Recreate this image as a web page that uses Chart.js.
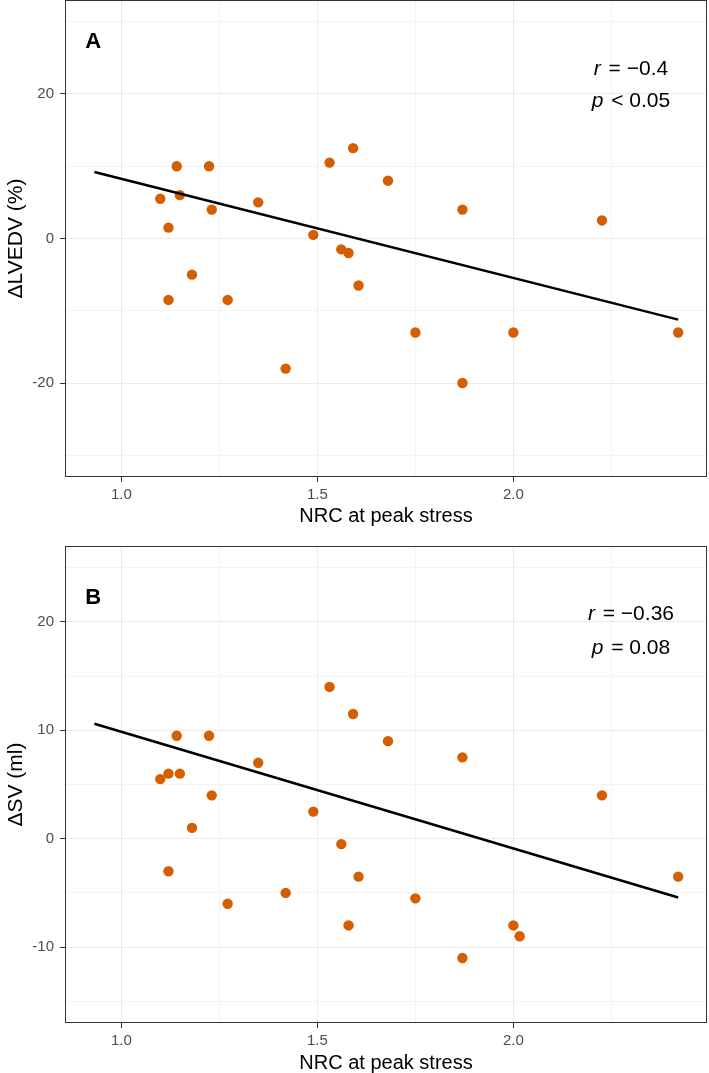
<!DOCTYPE html>
<html><head><meta charset="utf-8">
<script src="https://cdn.jsdelivr.net/npm/chart.js@4.4.0/dist/chart.umd.min.js"></script>
<style>
html,body{margin:0;padding:0;background:#fff;}
#wrapA{position:absolute;left:0;top:0;width:709px;height:540px;}
#wrapB{position:absolute;left:0;top:540px;width:709px;height:533px;}
canvas{display:block;}
</style></head><body>
<div id="wrapA"><canvas id="cA" width="709" height="540"></canvas></div>
<div id="wrapB"><canvas id="cB" width="709" height="533"></canvas></div>
<script>
// ---- data ----
const nrcA   = [1.099, 1.120, 1.120, 1.141, 1.149, 1.180, 1.2235, 1.2304, 1.271, 1.349, 1.419, 1.4896, 1.531, 1.561, 1.5795, 1.591, 1.605, 1.680, 1.750, 1.870, 1.870, 2.000, 2.226, 2.4205];
const dLVEDV = [5.5, 1.5, -8.5, 10, 6, -5, 10, 4, -8.5, 5, -18, 0.5, 10.5, -1.5, -2, 12.5, -6.5, 8, -13, 4, -20, -13, 2.5, -13];
const nrcB   = [1.099, 1.120, 1.120, 1.141, 1.149, 1.180, 1.2235, 1.2304, 1.271, 1.349, 1.419, 1.4896, 1.531, 1.561, 1.5795, 1.591, 1.605, 1.680, 1.750, 1.870, 1.870, 2.000, 2.016, 2.226, 2.4205];
const dSV    = [5.5, 6, -3, 9.5, 6, 1, 9.5, 4, -6, 7, -5, 2.5, 14, -0.5, -8, 11.5, -3.5, 9, -5.5, 7.5, -11, -8, -9, 4, -3.5];
const fitX   = [0.931, 2.4205];
const fitA   = [9.19, -11.22];
const fitB   = [10.6, -5.43];
const xTickValues  = [1.0, 1.25, 1.5, 1.75, 2.0, 2.25];
const xTickLabels  = ['1.0', '', '1.5', '', '2.0', ''];
const yTickValuesA = [-30, -20, -10, 0, 10, 20, 30];
const yTickLabelsA = ['', '-20', '', '0', '', '20', ''];
const yTickValuesB = [-15, -10, -5, 0, 5, 10, 15, 20, 25];
const yTickLabelsB = ['', '-10', '', '0', '', '10', '', '20', ''];
const statA = [['r', ' = \u22120.4'], ['p', ' < 0.05']];
const statB = [['r', ' = \u22120.36'], ['p', ' = 0.08']];

const FAM = '"Liberation Sans", Arial, Helvetica, sans-serif';

const panelDecor = {
  id: 'panelDecor',
  afterDatasetsDraw(chart, args, opts) {
    const {ctx, chartArea: a, scales: {x, y}} = chart;
    ctx.save();
    ctx.strokeStyle = '#333333';
    ctx.lineWidth = 1;
    ctx.strokeRect(Math.round(a.left) + 0.5, Math.round(a.top) + 0.5,
                   Math.round(a.right - a.left) - 1, Math.round(a.bottom - a.top) - 1);
    ctx.fillStyle = '#000';
    ctx.font = 'bold 22px ' + FAM;
    ctx.textAlign = 'center';
    ctx.textBaseline = 'alphabetic';
    ctx.fillText(opts.letter, x.getPixelForValue(opts.letterX), y.getPixelForValue(opts.letterY) + 22 * 0.716 / 2);
    const size = 21;
    const fi = 'italic ' + size + 'px ' + FAM, fn = size + 'px ' + FAM;
    opts.lines.forEach((ln, i) => {
      const cx = x.getPixelForValue(opts.statX);
      const cy = y.getPixelForValue(opts.statY[i]) + size * 0.716 / 2;
      ctx.font = fi; const w1 = ctx.measureText(ln[0]).width;
      ctx.font = fn; const w2 = ctx.measureText(ln[1]).width;
      const sx = cx - (w1 + w2 + 2) / 2;
      ctx.textAlign = 'left';
      ctx.font = fi; ctx.fillText(ln[0], sx, cy);
      ctx.font = fn; ctx.fillText(ln[1], sx + w1 + 2, cy);
    });
    ctx.restore();
  }
};

function makePanel(id, c) {
  return new Chart(document.getElementById(id), {
    type: 'scatter',
    data: {
      datasets: [
        { type: 'line', data: c.fitX.map((v, i) => ({x: v, y: c.fitY[i]})),
          borderColor: '#000', borderWidth: 2.5, pointRadius: 0, fill: false, order: 0 },
        { data: c.xs.map((v, i) => ({x: v, y: c.ys[i]})),
          backgroundColor: '#D55E00', borderWidth: 0, pointRadius: 5.2, order: 1 }
      ]
    },
    options: {
      responsive: false,
      animation: false,
      events: [],
      layout: { autoPadding: false, padding: { top: c.padTop, right: 2, bottom: 0, left: 0 } },
      plugins: {
        legend: { display: false },
        tooltip: { enabled: false },
        panelDecor: c.decor
      },
      scales: {
        x: {
          type: 'linear', min: 0.856, max: 2.494,
          afterBuildTicks: s => { s.ticks = xTickValues.map(v => ({value: v})); },
          afterFit: s => { s.height = c.xAxisH; s.paddingLeft = 0; s.paddingRight = 0; },
          border: { display: false },
          grid: {
            color: g => xTickLabels[g.index] ? '#ebebeb' : '#f3f3f3',
            lineWidth: 1, tickLength: 5, drawTicks: true,
            tickColor: g => xTickLabels[g.index] ? '#333333' : 'rgba(0,0,0,0)'
          },
          ticks: { autoSkip: false, maxRotation: 0, color: '#4d4d4d', padding: 3.5,
                   font: { family: FAM, size: 15 },
                   callback: (v, i) => xTickLabels[i] },
          title: { display: true, text: 'NRC at peak stress', color: '#000',
                   font: { family: FAM, size: 20, lineHeight: 1 },
                   padding: { top: 0, bottom: c.xTitlePad } }
        },
        y: {
          type: 'linear', min: c.yMin, max: c.yMax,
          afterBuildTicks: s => { s.ticks = c.yTicks.map(v => ({value: v})); },
          afterFit: s => { s.width = 65; s.paddingTop = 0; s.paddingBottom = 0; },
          border: { display: false },
          grid: {
            color: g => c.yLabels[g.index] ? '#ebebeb' : '#f3f3f3',
            lineWidth: 1, tickLength: 5, drawTicks: true,
            tickColor: g => c.yLabels[g.index] ? '#333333' : 'rgba(0,0,0,0)'
          },
          ticks: { autoSkip: false, color: '#4d4d4d', padding: 6,
                   font: { family: FAM, size: 15 },
                   callback: (v, i) => c.yLabels[i] },
          title: { display: true, text: c.yTitle, color: '#000',
                   font: { family: FAM, size: 21, lineHeight: 1 },
                   padding: { top: 5.5, bottom: 0 } }
        }
      }
    },
    plugins: [panelDecor]
  });
}

makePanel('cA', {
  xs: nrcA, ys: dLVEDV, fitX: fitX, fitY: fitA,
  yMin: -33, yMax: 33, yTicks: yTickValuesA, yLabels: yTickLabelsA,
  yTitle: '\u0394LVEDV (%)', padTop: 0, xAxisH: 63, xTitlePad: 13.3,
  decor: { letter: 'A', letterX: 0.928, letterY: 27.4, statX: 2.30, statY: [23.7, 19.2], lines: statA }
});
makePanel('cB', {
  xs: nrcB, ys: dSV, fitX: fitX, fitY: fitB,
  yMin: -17, yMax: 27, yTicks: yTickValuesB, yLabels: yTickLabelsB,
  yTitle: '\u0394SV (ml)', padTop: 6, xAxisH: 50, xTitlePad: 0,
  decor: { letter: 'B', letterX: 0.928, letterY: 22.4, statX: 2.30, statY: [20.86, 17.7], lines: statB }
});
</script>
</body></html>
